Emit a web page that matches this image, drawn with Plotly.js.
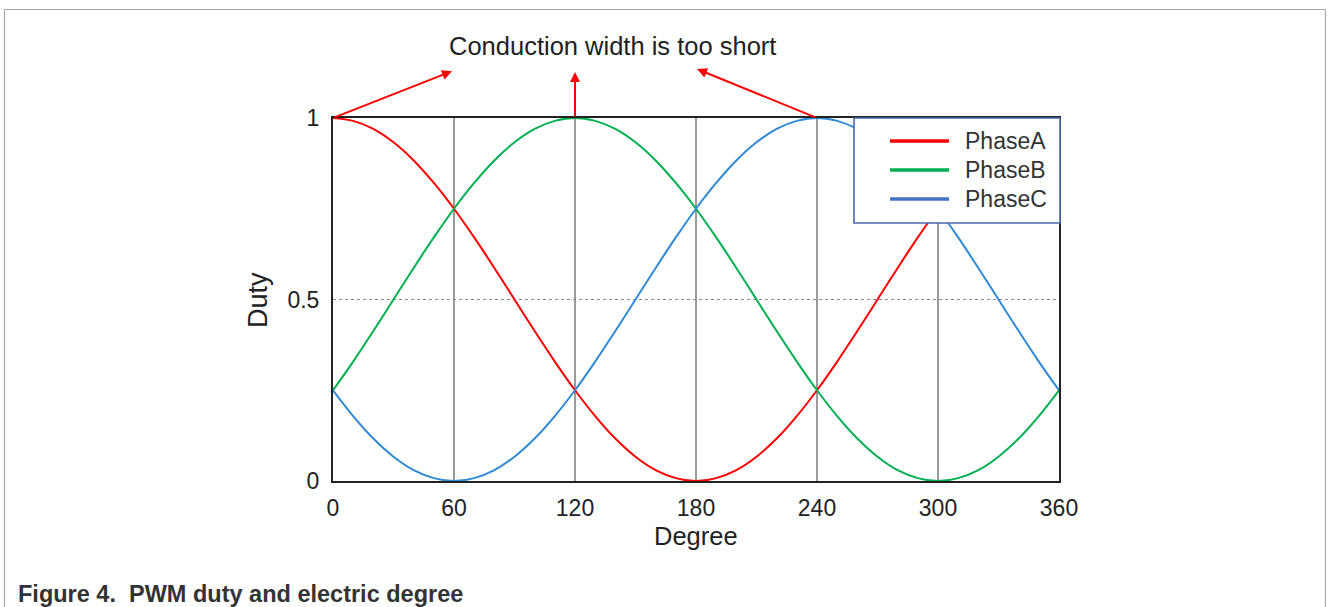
<!DOCTYPE html>
<html>
<head>
<meta charset="utf-8">
<script src="https://cdn.plot.ly/plotly-3.0.1.min.js"></script>
<style>
html,body{margin:0;padding:0;background:#fff;}
#chart{width:1328px;height:607px;}
</style>
</head>
<body>
<div id="chart"></div>
<script>
// Electric degree (x axis)
const degree = [0,10,20,30,40,50,60,70,80,90,100,110,120,130,140,150,160,170,180,
  190,200,210,220,230,240,250,260,270,280,290,300,310,320,330,340,350,360];
// Duty values
const phaseA = [1,0.992,0.970,0.933,0.883,0.821,0.75,0.671,0.587,0.5,0.413,0.329,0.25,0.179,0.117,0.067,0.030,0.008,0,
  0.008,0.030,0.067,0.117,0.179,0.25,0.329,0.413,0.5,0.587,0.671,0.75,0.821,0.883,0.933,0.970,0.992,1];
const phaseB = [0.25,0.329,0.413,0.5,0.587,0.671,0.75,0.821,0.883,0.933,0.970,0.992,1,0.992,0.970,0.933,0.883,0.821,0.75,
  0.671,0.587,0.5,0.413,0.329,0.25,0.179,0.117,0.067,0.030,0.008,0,0.008,0.030,0.067,0.117,0.179,0.25];
const phaseC = [0.25,0.179,0.117,0.067,0.030,0.008,0,0.008,0.030,0.067,0.117,0.179,0.25,0.329,0.413,0.5,0.587,0.671,0.75,
  0.821,0.883,0.933,0.970,0.992,1,0.992,0.970,0.933,0.883,0.821,0.75,0.671,0.587,0.5,0.413,0.329,0.25];
const seriesNames = ['PhaseA','PhaseB','PhaseC'];
const xTicks = [0,60,120,180,240,300,360];
const yTicks = [0,0.5,1];
const yTickText = ['0','0.5','1'];
// Arrow heads/tails (degree, duty) for "Conduction width is too short"
const arrowTails = [[0,1],[120,1],[240,1]];
const arrowHeads = [[59,1.129],[120,1.127],[180.5,1.135]];

const lineColors = ['#ff0000','#00b050','#2f8ad6'];
const legendColors = ['#ff0000','#00b050','#4472c4'];
const font = '"Liberation Sans", Arial, sans-serif';

const traces = [phaseA, phaseB, phaseC].map((ys, i) => ({
  x: degree, y: ys, type: 'scatter', mode: 'lines', name: seriesNames[i],
  line: {color: lineColors[i], width: 2, shape: 'spline', smoothing: 1},
  showlegend: false, hoverinfo: 'x+y+name'
}));

// pixel helpers for paper coordinates (plot area 333..1059 x, 118..481 y)
const L = 333, R = 1059, T = 118, B = 481;
const px = v => (v - L) / (R - L);
const py = v => (B - v) / (B - T);

const shapes = [
  // outer figure border (left, top, right)
  {type:'path', xref:'paper', yref:'paper',
   path:`M ${px(4.5)} ${py(620)} L ${px(4.5)} ${py(9.5)} L ${px(1325.5)} ${py(9.5)} L ${px(1325.5)} ${py(620)}`,
   line:{color:'#a8a8a8', width:1.2}, layer:'above'},
  // legend box
  {type:'rect', xref:'paper', yref:'paper', x0:px(854), x1:px(1060), y0:py(223), y1:py(118),
   fillcolor:'#ffffff', line:{color:'#4a6aa8', width:1.6}, layer:'above'}
];
const legendRows = [141,170,199];
legendRows.forEach((ry, i) => {
  shapes.push({type:'line', xref:'paper', yref:'paper', x0:px(890), x1:px(949), y0:py(ry), y1:py(ry),
    line:{color:legendColors[i], width:3.5}, layer:'above'});
});

const annotations = [
  {xref:'paper', yref:'paper', x:px(612), y:py(46), text:'Conduction width is too short', showarrow:false,
   font:{family:font, size:25.5, color:'#222'}, xanchor:'center', yanchor:'middle'},
  {xref:'paper', yref:'paper', x:px(16), y:py(594), text:'<b>Figure 4.  PWM duty and electric degree</b>', showarrow:false,
   font:{family:font, size:23.5, color:'#333'}, xanchor:'left', yanchor:'middle'},
  {xref:'paper', yref:'paper', x:px(258), y:py(300), text:'Duty', textangle:-90, showarrow:false,
   font:{family:font, size:27, color:'#222'}, xanchor:'center', yanchor:'middle'},
  {xref:'paper', yref:'paper', x:px(696), y:py(536), text:'Degree', showarrow:false,
   font:{family:font, size:25.5, color:'#222'}, xanchor:'center', yanchor:'middle'}
];
legendRows.forEach((ry, i) => {
  annotations.push({xref:'paper', yref:'paper', x:px(963), y:py(ry), text:seriesNames[i], showarrow:false,
    font:{family:font, size:23, color:'#333'}, xanchor:'left', yanchor:'middle'});
});
arrowTails.forEach((t, i) => {
  annotations.push({x:arrowHeads[i][0], y:arrowHeads[i][1], xref:'x', yref:'y',
    ax:t[0], ay:t[1], axref:'x', ayref:'y', text:'', showarrow:true,
    arrowhead:2, arrowsize:1, arrowwidth:2, arrowcolor:'#ff0000', standoff:0, startstandoff:0});
});

const layout = {
  width:1328, height:607,
  margin:{l:L, r:1328-R, t:T, b:607-B, pad:0},
  paper_bgcolor:'#ffffff', plot_bgcolor:'#ffffff',
  font:{family:font, color:'#222'},
  showlegend:false,
  xaxis:{range:[0,360], tickvals:xTicks, ticktext:xTicks.map(String), showgrid:true,
    gridcolor:'#9a9a9a', gridwidth:1.5, zeroline:false, showline:true, mirror:true,
    linecolor:'#222', linewidth:2, ticks:'', ticklabelstandoff:5,
    tickfont:{family:font, size:23, color:'#222'}, fixedrange:true},
  yaxis:{range:[0,1], tickvals:yTicks, ticktext:yTickText, showgrid:true,
    gridcolor:'#8a8a8a', gridwidth:1.3, griddash:'dot', zeroline:false, showline:true, mirror:true,
    linecolor:'#222', linewidth:2, ticks:'', ticklabelstandoff:7,
    tickfont:{family:font, size:23, color:'#222'}, fixedrange:true},
  shapes:shapes,
  annotations:annotations
};

Plotly.newPlot('chart', traces, layout, {displayModeBar:false, staticPlot:true});
</script>
</body>
</html>
